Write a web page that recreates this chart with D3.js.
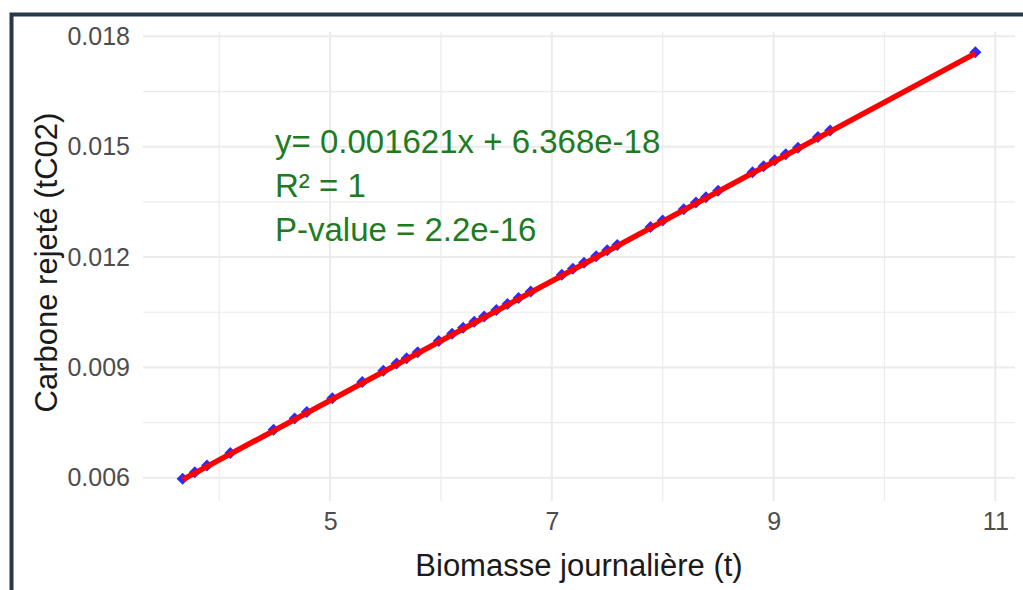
<!DOCTYPE html>
<html>
<head>
<meta charset="utf-8">
<script src="https://cdn.jsdelivr.net/npm/d3@7"></script>
<style>
  body { margin: 0; background: #fff; }
  svg { display: block; font-family: 'Liberation Sans', Arial, sans-serif; }
</style>
</head>
<body>
<svg width="1023" height="590"></svg>
<script>
// Daily biomass (t) and carbon released (tCO2)
const biomasse = [
  3.67, 3.78, 3.89, 4.10, 4.49, 4.68, 4.79, 5.02, 5.29, 5.48, 5.60, 5.69,
  5.79, 5.98, 6.10, 6.20, 6.30, 6.39, 6.50, 6.60, 6.70, 6.81, 7.09, 7.19,
  7.29, 7.40, 7.50, 7.59, 7.89, 8.00, 8.19, 8.30, 8.39, 8.50, 8.81, 8.91,
  9.01, 9.11, 9.22, 9.40, 9.51, 10.82
];
const carbone = [
  0.005949, 0.006127, 0.006306, 0.006646, 0.007278, 0.007586, 0.007765,
  0.008137, 0.008575, 0.008883, 0.009078, 0.009223, 0.009386, 0.009694,
  0.009888, 0.010050, 0.010212, 0.010358, 0.010537, 0.010699, 0.010861,
  0.011039, 0.011493, 0.011655, 0.011817, 0.011995, 0.012158, 0.012303,
  0.012790, 0.012968, 0.013276, 0.013454, 0.013600, 0.013779, 0.014281,
  0.014443, 0.014605, 0.014767, 0.014946, 0.015237, 0.015416, 0.017539
];
const xTicks = [5, 7, 9, 11];
const xMinor = [4, 6, 8, 10];
const yTicks = [0.006, 0.009, 0.012, 0.015, 0.018];
const yMinor = [0.0075, 0.0105, 0.0135, 0.0165];
const fit = { slope: 0.001621, intercept: 6.368e-18 };
const annotations = ['y= 0.001621x + 6.368e-18', 'R\u00b2 = 1', 'P-value = 2.2e-16'];

const data = biomasse.map((b, i) => ({ x: b, y: carbone[i] }));

const svg = d3.select('svg');
const panel = { left: 143, right: 1015, top: 32, bottom: 501 };

// ggplot-like 5% expansion around the data
const expand = (ext) => {
  const pad = (ext[1] - ext[0]) * 0.05;
  return [ext[0] - pad, ext[1] + pad];
};
const x = d3.scaleLinear()
  .domain(expand(d3.extent(biomasse)))
  .range([panel.left, panel.right]);
const y = d3.scaleLinear()
  .domain(expand(d3.extent(carbone)))
  .range([panel.bottom, panel.top]);

// Grid
const grid = svg.append('g').attr('class', 'grid').attr('stroke', '#ebebeb');
grid.selectAll('.ymin').data(yMinor).enter().append('line')
  .attr('x1', panel.left).attr('x2', panel.right)
  .attr('y1', d => y(d)).attr('y2', d => y(d))
  .attr('stroke-width', 1.2);
grid.selectAll('.xmin').data(xMinor).enter().append('line')
  .attr('y1', panel.top).attr('y2', panel.bottom)
  .attr('x1', d => x(d)).attr('x2', d => x(d))
  .attr('stroke-width', 1.2);
grid.selectAll('.ymaj').data(yTicks).enter().append('line')
  .attr('x1', panel.left).attr('x2', panel.right)
  .attr('y1', d => y(d)).attr('y2', d => y(d))
  .attr('stroke-width', 2);
grid.selectAll('.xmaj').data(xTicks).enter().append('line')
  .attr('y1', panel.top).attr('y2', panel.bottom)
  .attr('x1', d => x(d)).attr('x2', d => x(d))
  .attr('stroke-width', 2);

// Axes (labels only, theme_minimal)
const xAxis = svg.append('g')
  .attr('class', 'x-axis')
  .attr('transform', `translate(0,${panel.bottom})`)
  .call(d3.axisBottom(x).tickValues(xTicks).tickSize(0).tickPadding(11).tickFormat(d3.format('d')));
const yAxis = svg.append('g')
  .attr('class', 'y-axis')
  .attr('transform', `translate(${panel.left},0)`)
  .call(d3.axisLeft(y).tickValues(yTicks).tickSize(0).tickPadding(13).tickFormat(d3.format('.3f')));
svg.selectAll('.x-axis path, .y-axis path').remove();
svg.selectAll('.x-axis text, .y-axis text')
  .attr('fill', '#4d4d4d')
  .style('font-size', '25px');
xAxis.selectAll('text').attr('dy', '0.71em');

// Points
svg.append('g')
  .selectAll('path')
  .data(data)
  .enter()
  .append('path')
  .attr('d', d3.symbol(d3.symbolSquare, 72))
  .attr('transform', d => `translate(${x(d.x)},${y(d.y) - 1}) rotate(45)`)
  .attr('fill', '#2b2bff');

// Regression line
const xr = d3.extent(biomasse);
svg.append('line')
  .attr('x1', x(xr[0])).attr('y1', y(fit.slope * xr[0] + fit.intercept))
  .attr('x2', x(xr[1])).attr('y2', y(fit.slope * xr[1] + fit.intercept))
  .attr('stroke', '#ff0000')
  .attr('stroke-width', 5.5);

// Equation text
svg.append('g')
  .selectAll('text')
  .data(annotations)
  .enter()
  .append('text')
  .attr('x', 275)
  .attr('y', (d, i) => 141 + i * 44)
  .attr('dy', '0.35em')
  .attr('fill', '#1e7b1e')
  .style('font-size', '33px')
  .text(d => d);

// Axis titles
svg.append('text')
  .attr('x', (panel.left + panel.right) / 2)
  .attr('y', 565)
  .attr('dy', '0.35em')
  .attr('text-anchor', 'middle')
  .attr('fill', '#1a1a1a')
  .style('font-size', '31px')
  .text('Biomasse journalière (t)');
svg.append('text')
  .attr('transform', `translate(46,${(panel.top + panel.bottom) / 2 - 4}) rotate(-90)`)
  .attr('dy', '0.35em')
  .attr('text-anchor', 'middle')
  .attr('fill', '#1a1a1a')
  .style('font-size', '31px')
  .text('Carbone rejeté (tC02)');

// Frame
svg.append('path')
  .attr('d', 'M11.5,590 V14.5 H1023')
  .attr('fill', 'none')
  .attr('stroke', '#27384a')
  .attr('stroke-width', 4);
</script>
</body>
</html>
